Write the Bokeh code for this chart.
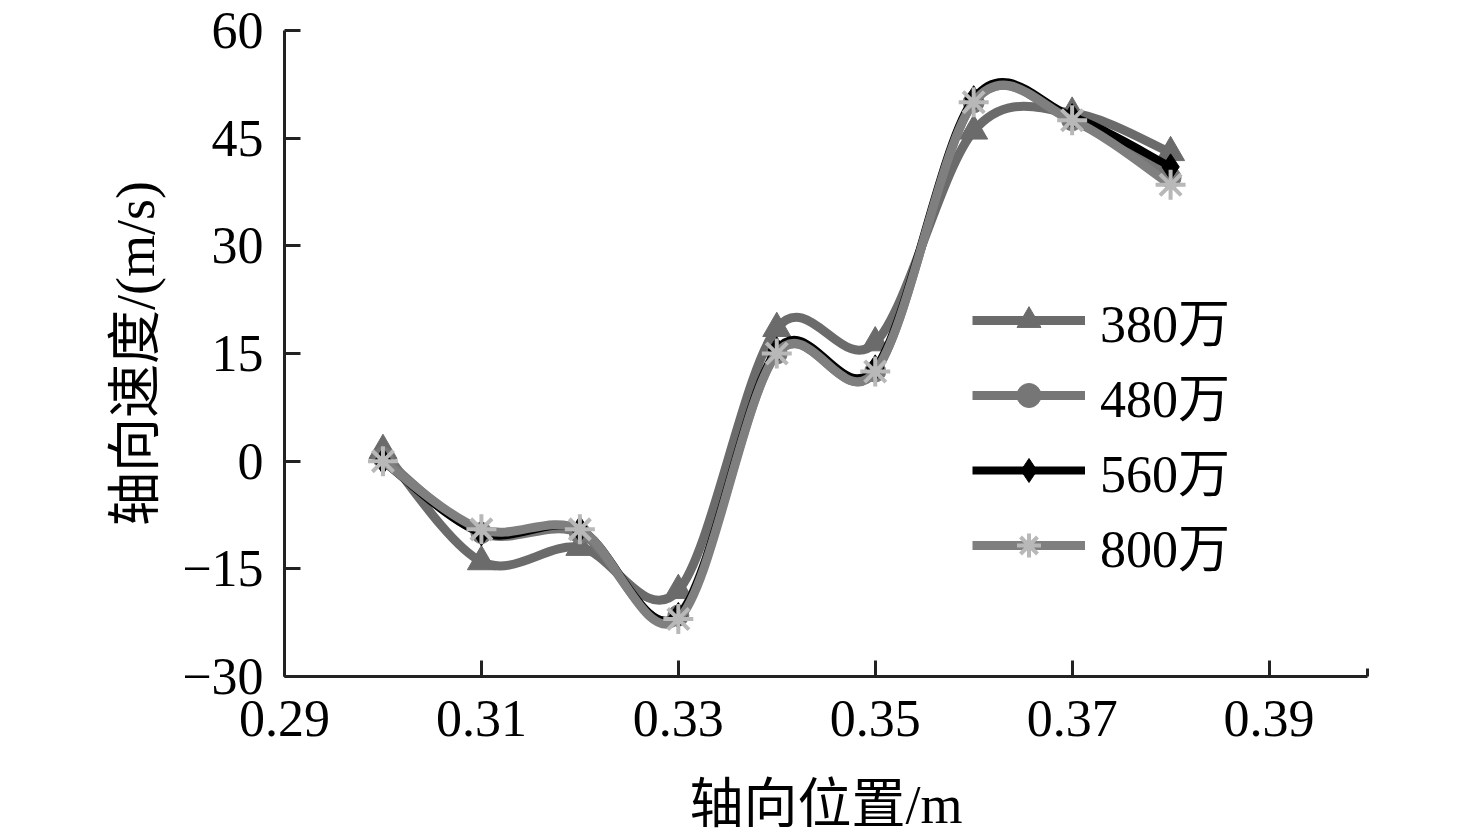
from bokeh.plotting import figure
from bokeh.models import FixedTicker, Legend, LegendItem
from bokeh.embed import file_html
from bokeh.resources import INLINE

#-------------- data ----------#
position = [0.30, 0.31, 0.32, 0.33, 0.34, 0.35, 0.36, 0.37, 0.38]
v380 = [1.5, -14.0, -12.0, -18.0, 18.5, 16.5, 46.0, 48.5, 43.0]
v480 = [0.5, -10.0, -10.0, -21.5, 15.0, 12.5, 50.0, 47.5, 39.5]
v560 = [0.0, -10.0, -9.5, -21.5, 15.5, 13.0, 50.5, 48.0, 41.0]
v800 = [0.0, -9.5, -9.5, -22.0, 15.0, 12.5, 50.0, 47.5, 38.5]
names = ["380万", "480万", "560万", "800万"]
x_ticks = [0.29, 0.31, 0.33, 0.35, 0.37, 0.39]
y_ticks = [-30, -15, 0, 15, 30, 45, 60]
#------------------------------#

SERIF = "'Liberation Serif', 'Noto Sans CJK SC'"


def smooth(xs, ys):
    # bezier segments through the points (Catmull-Rom style, like a smoothed line)
    n = len(xs)
    seg = dict(x0=[], y0=[], x1=[], y1=[], cx0=[], cy0=[], cx1=[], cy1=[])
    for i in range(n - 1):
        a = max(i - 1, 0)
        b = min(i + 2, n - 1)
        seg["x0"].append(xs[i]); seg["y0"].append(ys[i])
        seg["x1"].append(xs[i + 1]); seg["y1"].append(ys[i + 1])
        seg["cx0"].append(xs[i] + (xs[i + 1] - xs[a]) / 6)
        seg["cy0"].append(ys[i] + (ys[i + 1] - ys[a]) / 6)
        seg["cx1"].append(xs[i + 1] - (xs[b] - xs[i]) / 6)
        seg["cy1"].append(ys[i + 1] - (ys[b] - ys[i]) / 6)
    return seg


p = figure(frame_width=1083, frame_height=646,
           x_range=(0.29, 0.40), y_range=(-30, 60),
           output_backend="svg", toolbar_location=None,
           min_border_left=284, min_border_top=30,
           min_border_right=101, min_border_bottom=156)
p.outline_line_color = None
p.xgrid.visible = False
p.ygrid.visible = False
p.background_fill_color = "white"
p.border_fill_color = "white"

styles = [
    (v380, "#6b6b6b", 9, "triangle", 28, "#6b6b6b", "#6b6b6b", 1),
    (v480, "#767676", 9, "circle", 21, "#767676", "#767676", 1),
    (v560, "#000000", 8, "diamond", 26, "#000000", "#000000", 1),
    (v800, "#7f7f7f", 9, "asterisk", 30, None, "#b8b8b8", 4),
]

items = []
for name, (vals, col, lw, mk, sz, fc, lc, mlw) in zip(names, styles):
    seg = smooth(position, vals)
    b = p.bezier(x0="x0", y0="y0", x1="x1", y1="y1", cx0="cx0", cy0="cy0",
                 cx1="cx1", cy1="cy1", source=seg, line_color=col, line_width=lw)
    s = p.scatter(position, vals, marker=mk, size=sz, fill_color=fc,
                  line_color=lc, line_width=mlw)
    items.append(LegendItem(label=name, renderers=[b, s]))

legend = Legend(items=items, location=(688, 94))
legend.border_line_color = None
legend.background_fill_alpha = 0
legend.padding = 0
legend.margin = 0
legend.spacing = -6
legend.glyph_width = 113
legend.glyph_height = 60
legend.label_height = 60
legend.label_standoff = 15
legend.label_text_font = SERIF
legend.label_text_font_size = "52px"
legend.label_text_color = "black"
p.add_layout(legend, "center")

# axes
for ax in (p.xaxis[0], p.yaxis[0]):
    ax.axis_line_width = 3
    ax.axis_line_color = "#222222"
    ax.major_tick_line_width = 3
    ax.major_tick_line_color = "#222222"
    ax.major_tick_in = 16
    ax.major_tick_out = 0
    ax.major_label_text_font = SERIF
    ax.major_label_text_font_size = "52px"
    ax.major_label_text_color = "black"
    ax.axis_label_text_font = SERIF
    ax.axis_label_text_font_size = "54px"
    ax.axis_label_text_font_style = "normal"
    ax.axis_label_text_color = "black"

p.xaxis.ticker = FixedTicker(ticks=x_ticks, minor_ticks=[0.40])
p.xaxis.minor_tick_in = 8
p.xaxis.minor_tick_out = 0
p.xaxis.minor_tick_line_width = 3
p.xaxis.minor_tick_line_color = "#222222"
p.xaxis.major_label_overrides = {t: "%.2f" % t for t in x_ticks}
p.xaxis.major_label_standoff = 24
p.xaxis.axis_label = "轴向位置/m"
p.xaxis.axis_label_standoff = 36

p.yaxis.ticker = FixedTicker(ticks=y_ticks, minor_ticks=[])
p.yaxis.minor_tick_line_color = None
p.yaxis.major_label_overrides = {t: str(t).replace("-", "\u2212") for t in y_ticks}
p.yaxis.major_label_standoff = 21
p.yaxis.axis_label = "轴向速度/(m/s)"
p.yaxis.axis_label_standoff = 13

open("out.html", "w").write(file_html(p, INLINE))
